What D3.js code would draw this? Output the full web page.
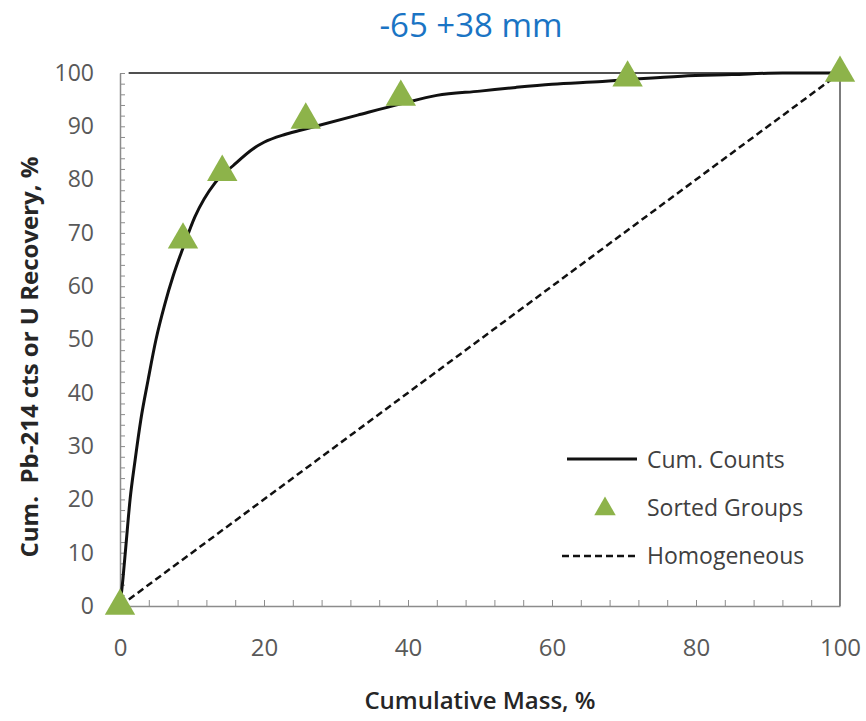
<!DOCTYPE html>
<html>
<head>
<meta charset="utf-8">
<script src="https://cdn.jsdelivr.net/npm/d3@7"></script>
<style>
  body { margin: 0; background: #fff; }
  svg { display: block; font-family: "Open Sans", sans-serif; }
</style>
</head>
<body>
<div id="viz"></div>
<script>
//Datos del gráfico
const cumMass = [0, 0.4, 0.8, 1.4, 2.1, 2.9, 3.9, 5.0, 6.2, 7.4, 8.7, 10.4, 13.2, 15.7, 18.5, 20, 23, 26, 33, 39, 44, 50, 55, 60, 67, 72, 78, 85, 92, 100];
const cumCounts = [0, 5, 11, 20, 27.4, 35, 42.4, 50, 56.5, 62, 67, 73, 79.4, 82.6, 85.8, 87, 88.5, 89.6, 92.1, 94.2, 95.8, 96.6, 97.3, 97.9, 98.4, 98.9, 99.4, 99.7, 100, 100];

const groupMass = [0, 8.75, 14.2, 25.8, 39, 70.5, 100];
const groupRecovery = [0, 68.7, 81.4, 91.2, 95.5, 99.1, 100];

const homogMass = [0, 100];
const homogRecovery = [0, 100];

const xTickLabels = [0, 20, 40, 60, 80, 100];
const yTickLabels = [0, 10, 20, 30, 40, 50, 60, 70, 80, 90, 100];
const xMinorTicks = [0, 4, 8, 12, 16, 20, 24, 28, 32, 36, 40, 44, 48, 52, 56, 60, 64, 68, 72, 76, 80, 84, 88, 92, 96, 100];
const yMinorTicks = [0, 2, 4, 6, 8, 10, 12, 14, 16, 18, 20, 22, 24, 26, 28, 30, 32, 34, 36, 38, 40, 42, 44, 46, 48, 50, 52, 54, 56, 58, 60, 62, 64, 66, 68, 70, 72, 74, 76, 78, 80, 82, 84, 86, 88, 90, 92, 94, 96, 98, 100];

//Colores
const COLOR_TITLE = '#1a74c4',
  COLOR_GREEN = '#8db34a',
  COLOR_AXIS = '#8c8c8c',
  COLOR_FRAME = '#505050',
  COLOR_TEXT = '#595959',
  COLOR_DARK = '#262626';

const width = 866, height = 721;
const margin = {top: 73, right: 26, bottom: 115, left: 120};

const svg = d3.select('#viz')
  .append('svg')
    .attr('width', width)
    .attr('height', height);

const x = d3.scaleLinear()
  .domain([0, 100])
  .range([margin.left, width - margin.right]);

const y = d3.scaleLinear()
  .domain([0, 100])
  .range([height - margin.bottom, margin.top]);

//Título
svg.append('text')
  .attr('x', 471)
  .attr('y', 37)
  .attr('text-anchor', 'middle')
  .style('font-size', '33px')
  .style('fill', COLOR_TITLE)
  .text('-65 +38 mm');

//Marco superior y derecho
svg.append('line')
  .attr('x1', x(1.2)).attr('x2', x(100))
  .attr('y1', y(100)).attr('y2', y(100))
  .style('stroke', COLOR_FRAME)
  .style('stroke-width', 2);

svg.append('line')
  .attr('x1', x(100)).attr('x2', x(100))
  .attr('y1', y(100)).attr('y2', y(0))
  .style('stroke', COLOR_FRAME)
  .style('stroke-width', 1.5);

//Ejes
svg.append('g')
  .attr('transform', 'translate(0,' + y(0) + ')')
  .call(d3.axisBottom(x).tickValues(xMinorTicks).tickSize(-6).tickSizeOuter(0).tickFormat(''))
  .call(function(g) {
    g.select('.domain').style('stroke', COLOR_AXIS).style('stroke-width', 1.5);
    g.selectAll('.tick line').style('stroke', COLOR_AXIS);
  });

svg.append('g')
  .attr('transform', 'translate(0,' + y(0) + ')')
  .call(d3.axisBottom(x).tickValues(xTickLabels).tickSize(0))
  .call(function(g) {
    g.select('.domain').remove();
    g.selectAll('text')
      .attr('y', 50)
      .attr('dy', null)
      .style('font-size', '24px')
      .style('fill', COLOR_TEXT)
      .style('font-family', '"Open Sans", sans-serif');
  });

svg.append('g')
  .attr('transform', 'translate(' + x(0) + ',0)')
  .call(d3.axisLeft(y).tickValues(yMinorTicks).tickSize(-5).tickSizeOuter(0).tickFormat(''))
  .call(function(g) {
    g.select('.domain').style('stroke', COLOR_AXIS).style('stroke-width', 1.5);
    g.selectAll('.tick line').style('stroke', COLOR_AXIS);
  });

svg.append('g')
  .attr('transform', 'translate(' + x(0) + ',0)')
  .call(d3.axisLeft(y).tickValues(yTickLabels).tickSize(0).tickPadding(26))
  .call(function(g) {
    g.select('.domain').remove();
    g.selectAll('text').style('font-size', '23px').style('fill', COLOR_TEXT).style('font-family', '"Open Sans", sans-serif');
  });

//Títulos de ejes
svg.append('text')
  .attr('x', 480)
  .attr('y', 709)
  .attr('text-anchor', 'middle')
  .style('font-size', '24px')
  .style('font-weight', 600)
  .style('fill', COLOR_DARK)
  .text('Cumulative Mass, %');

svg.append('text')
  .attr('transform', 'translate(38,357) rotate(-90)')
  .attr('text-anchor', 'middle')
  .style('font-size', '24px')
  .style('font-weight', 700)
  .style('fill', COLOR_DARK)
  .style('white-space', 'pre')
  .text('Cum.  Pb-214 cts or U Recovery, %');

//Líneas
const homogData = homogMass.map(function(d, i) { return [d, homogRecovery[i]]; });
const countsData = cumMass.map(function(d, i) { return [d, cumCounts[i]]; });
const groupsData = groupMass.map(function(d, i) { return [d, groupRecovery[i]]; });

const line = d3.line()
  .x(function(d) { return x(d[0]); })
  .y(function(d) { return y(d[1]); });

svg.append('path')
  .datum(homogData)
  .attr('d', line)
  .style('fill', 'none')
  .style('stroke', '#111')
  .style('stroke-width', 2.5)
  .style('stroke-dasharray', '7,4');

svg.append('path')
  .datum(countsData)
  .attr('d', line.curve(d3.curveMonotoneX))
  .style('fill', 'none')
  .style('stroke', '#111')
  .style('stroke-width', 3);

//Triángulos
const tri = d3.symbol().type(d3.symbolTriangle).size(400);

svg.selectAll('.groups')
  .data(groupsData)
  .enter()
  .append('path')
  .attr('class', 'groups')
  .attr('d', tri)
  .attr('transform', function(d) { return 'translate(' + x(d[0]) + ',' + y(d[1]) + ')'; })
  .style('fill', COLOR_GREEN);

//Leyenda
const legend = svg.append('g').attr('transform', 'translate(0,0)');
const legendItems = ['Cum. Counts', 'Sorted Groups', 'Homogeneous'];

legend.append('line')
  .attr('x1', 567).attr('x2', 637).attr('y1', 459).attr('y2', 459)
  .style('stroke', '#111').style('stroke-width', 3);

legend.append('path')
  .attr('d', d3.symbol().type(d3.symbolTriangle).size(200))
  .attr('transform', 'translate(605,509)')
  .style('fill', COLOR_GREEN);

legend.append('line')
  .attr('x1', 562).attr('x2', 637).attr('y1', 556).attr('y2', 556)
  .style('stroke', '#111').style('stroke-width', 2.5).style('stroke-dasharray', '7,4');

legend.selectAll('.legend-text')
  .data(legendItems)
  .enter()
  .append('text')
  .attr('class', 'legend-text')
  .attr('x', 647)
  .attr('y', function(d, i) { return 468 + i * 48; })
  .style('font-size', '23px')
  .style('fill', '#404040')
  .text(function(d) { return d; });
</script>
</body>
</html>
